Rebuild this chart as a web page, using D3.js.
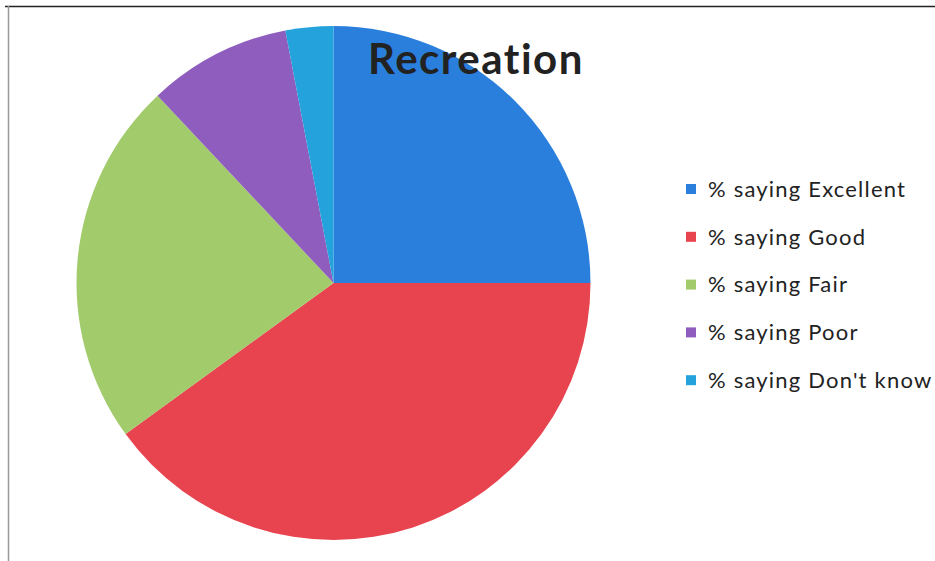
<!DOCTYPE html>
<html>
<head>
<meta charset="utf-8">
<script src="https://cdn.jsdelivr.net/npm/d3@7"></script>
<style>
  body { margin: 0; background: #fff; }
  svg { display: block; }
</style>
</head>
<body>
<div id="chart"></div>
<script>
// Chart data
const categories = ["% saying Excellent", "% saying Good", "% saying Fair", "% saying Poor", "% saying Don't know"];
const values = [25, 40, 23, 9, 3];
const colors = ["#2b7fdc", "#e8444f", "#a2cb6c", "#8e5dbd", "#23a2dc"];

const width = 935;
const height = 561;
const radius = 257;
const cx = 333.5, cy = 283;

const svg = d3.select("#chart")
  .append("svg")
  .attr("width", width)
  .attr("height", height);

// Frame lines (scanned page edges)
svg.append("line")
  .attr("x1", 5).attr("x2", width)
  .attr("y1", 6.5).attr("y2", 6.5)
  .attr("stroke", "#222").attr("stroke-width", 1.5);
svg.append("line")
  .attr("x1", 8.5).attr("x2", 8.5)
  .attr("y1", 6).attr("y2", height)
  .attr("stroke", "#999").attr("stroke-width", 1.5);

const color = d3.scaleOrdinal()
  .domain(categories)
  .range(colors);

// Pie layout, starting at 12 o'clock, clockwise, in data order
const pie = d3.pie()
  .sort(null)
  .value(d => d.value);

const data_ready = pie(categories.map((c, i) => ({ key: c, value: values[i] })));

const arc = d3.arc()
  .innerRadius(0)
  .outerRadius(radius);

const g = svg.append("g")
  .attr("transform", "translate(" + cx + "," + cy + ")");

g.selectAll("path")
  .data(data_ready)
  .enter()
  .append("path")
  .attr("d", arc)
  .attr("fill", d => color(d.data.key));

// Title
svg.append("text")
  .attr("x", 476)
  .attr("y", 74)
  .attr("text-anchor", "middle")
  .style("font-family", "Lato, 'Open Sans', sans-serif")
  .style("font-size", "42px")
  .style("font-weight", "700")
  .style("letter-spacing", "1.5px")
  .style("fill", "#222")
  .text("Recreation");

// Legend
const legendX = 686, legendY = 189, step = 47.8, size = 10;

svg.selectAll("legend-rect")
  .data(categories)
  .enter()
  .append("rect")
  .attr("x", legendX)
  .attr("y", (d, i) => legendY + i * step - size / 2)
  .attr("width", size)
  .attr("height", size)
  .attr("fill", d => color(d));

svg.selectAll("legend-label")
  .data(categories)
  .enter()
  .append("text")
  .attr("x", legendX + 22)
  .attr("y", (d, i) => legendY + i * step)
  .attr("dy", "0.35em")
  .style("font-family", "Lato, 'Open Sans', sans-serif")
  .style("font-size", "22px")
  .style("letter-spacing", "1.2px")
  .style("fill", "#222")
  .text(d => d);
</script>
</body>
</html>
